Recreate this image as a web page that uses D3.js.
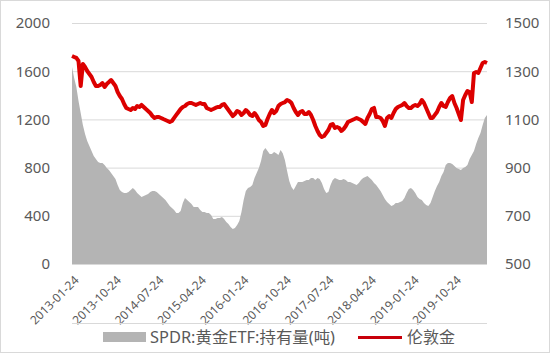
<!DOCTYPE html>
<html><head><meta charset="utf-8">
<script src="https://cdn.jsdelivr.net/npm/d3@7/dist/d3.min.js"></script>
<style>
html,body{margin:0;padding:0;background:#fff;}
text{font-family:"Noto Sans","Noto Sans CJK SC",sans-serif;fill:#595959;}
</style></head>
<body><svg id="c" width="550" height="353"></svg>
<script>
// Biweekly sampling dates starting 2013-01-24
const startDate = "2013-01-24";
const stepDays = 14;

// 伦敦金 (left axis)
const gold = [1726,1718,1710,1685,1477,1660,1635,1602,1577,1552,1510,1477,1477,1486,1502,1469,1494,1510,1527,1502,
1477,1427,1394,1369,1328,1295,1286,1278,1295,1286,1311,1303,1320,1303,1286,1270,1253,1228,1212,1220,
1220,1212,1203,1195,1187,1178,1187,1212,1237,1261,1286,1303,1311,1328,1336,1336,1328,1320,1328,1336,
1328,1328,1295,1286,1278,1286,1295,1303,1303,1320,1328,1303,1278,1253,1228,1245,1270,1261,1237,1253,
1278,1261,1237,1228,1253,1228,1195,1178,1145,1154,1203,1245,1278,1253,1270,1311,1328,1336,1344,1361,
1353,1336,1295,1261,1237,1261,1270,1245,1245,1261,1237,1195,1145,1104,1071,1054,1062,1087,1112,1154,
1162,1129,1137,1129,1104,1120,1145,1178,1187,1195,1203,1212,1203,1195,1178,1162,1212,1245,1286,1295,
1220,1220,1212,1187,1145,1212,1228,1212,1253,1286,1303,1311,1320,1336,1311,1295,1295,1311,1320,1311,
1328,1361,1336,1295,1253,1212,1212,1237,1261,1303,1336,1311,1303,1344,1378,1394,1336,1295,1245,1195,
1361,1403,1436,1427,1344,1585,1593,1585,1627,1668,1676,1668];

// SPDR:黄金ETF:持有量(吨) (right axis)
const spdr = [1317,1272,1234,1176,1127,1077,1039,1010,990,969,948,936,923,919,919,911,898,890,878,865,
853,828,807,799,795,795,799,807,815,807,795,786,778,782,786,790,799,803,803,799,
790,782,774,766,753,741,732,724,712,712,720,753,774,766,757,749,737,737,737,724,
716,716,712,712,703,687,687,691,691,695,687,674,666,654,645,649,662,678,716,766,
803,815,819,828,857,878,898,927,969,981,969,956,956,965,960,952,973,960,931,886,
844,819,807,824,840,840,840,844,849,849,857,857,849,857,853,836,811,795,799,828,
849,857,853,849,849,853,849,840,840,836,832,828,836,849,857,861,865,857,849,836,
828,815,803,786,770,757,749,741,745,753,753,757,761,774,795,811,815,807,795,778,
770,766,753,745,741,753,778,803,824,840,865,882,911,919,919,915,907,898,894,890,
898,902,911,936,952,969,998,1023,1044,1077,1106,1118];

const tickDates = ["2013-01-24","2013-10-24","2014-07-24","2015-04-24","2016-01-24","2016-10-24","2017-07-24","2018-04-24","2019-01-24","2019-10-24"];
const leftTicks = [0,400,800,1200,1600,2000];
const rightTicks = [500,700,900,1100,1300,1500];
const seriesNames = ["SPDR:黄金ETF:持有量(吨)","伦敦金"];

const parse = d3.timeParse("%Y-%m-%d");
const t0 = parse(startDate);
const dates = gold.map((_, i) => d3.timeDay.offset(t0, i * stepDays));

const svg = d3.select("#c");
const L = 72, R = 487, T = 23, B = 264;

svg.append("rect").attr("x",0.5).attr("y",0.5).attr("width",549).attr("height",352)
  .attr("fill","#fff").attr("stroke","#d9d9d9");

const x = d3.scaleTime().domain([dates[0], dates[dates.length-1]]).range([L, R]);
const yL = d3.scaleLinear().domain([0,2000]).range([B, T]);
const yR = d3.scaleLinear().domain([500,1500]).range([B, T]);

// gridlines
svg.append("g").selectAll("line").data(leftTicks).join("line")
  .attr("x1",L).attr("x2",R).attr("y1",d=>yL(d)+0.5).attr("y2",d=>yL(d)+0.5)
  .attr("stroke","#d9d9d9").attr("stroke-width",1);

// area
const area = d3.area().x((d,i)=>x(dates[i])).y0(yR(500)).y1(d=>yR(d));
svg.append("path").datum(spdr).attr("d",area).attr("fill","#b4b4b4");

// line
const line = d3.line().x((d,i)=>x(dates[i])).y(d=>yL(d));
svg.append("path").datum(gold).attr("d",line).attr("fill","none")
  .attr("stroke","#dc0000").attr("stroke-width",4).attr("stroke-linejoin","round");

const f0 = d3.format("d");
// left axis
const axL = d3.axisLeft(yL).tickValues(leftTicks).tickFormat(f0).tickSize(0).tickPadding(0);
const gL = svg.append("g").attr("transform",`translate(${L-22},0)`).call(axL);
gL.select(".domain").remove();
gL.selectAll("text").attr("font-size",15).attr("fill","#595959");

// right axis
const axR = d3.axisRight(yR).tickValues(rightTicks).tickFormat(f0).tickSize(0).tickPadding(0);
const gR = svg.append("g").attr("transform",`translate(${R+18},0)`).call(axR);
gR.select(".domain").remove();
gR.selectAll("text").attr("font-size",15).attr("fill","#595959");

// bottom axis
const fmt = d3.timeFormat("%Y-%m-%d");
const axB = d3.axisBottom(x).tickValues(tickDates.map(parse)).tickFormat(fmt).tickSize(0).tickPadding(0);
const gB = svg.append("g").attr("transform",`translate(0,${B})`).call(axB);
gB.select(".domain").remove();
gB.selectAll("text").attr("font-size",12).attr("fill","#595959")
  .attr("text-anchor","end").attr("dy",null).attr("y",null)
  .attr("transform","translate(7,17) rotate(-45)");

// separator line above legend
svg.append("line").attr("x1",L).attr("x2",R).attr("y1",323.5).attr("y2",323.5)
  .attr("stroke","#d9d9d9");

// legend
const lg = svg.append("g");
lg.append("rect").attr("x",103).attr("y",332).attr("width",43).attr("height",10).attr("fill","#b4b4b4");
lg.append("text").attr("x",150).attr("y",343).attr("font-size",16)
  .attr("textLength",185).attr("lengthAdjust","spacingAndGlyphs").text(seriesNames[0]);
lg.append("line").attr("x1",358).attr("x2",402).attr("y1",337.5).attr("y2",337.5)
  .attr("stroke","#c8000a").attr("stroke-width",3);
lg.append("text").attr("x",407).attr("y",343).attr("font-size",16).text(seriesNames[1]);
</script></body></html>
